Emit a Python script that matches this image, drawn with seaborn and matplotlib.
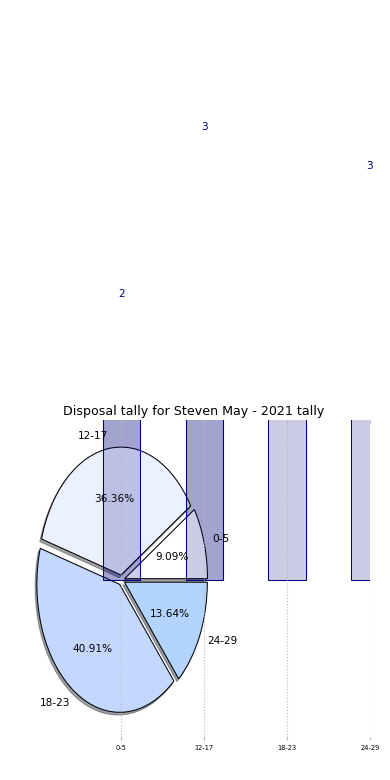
import matplotlib
matplotlib.use("Agg")
import matplotlib.pyplot as plt
import seaborn as sns

plt.rcParams['font.family'] = ['DejaVu Sans']

# ===================== data =====================
intervals = ['0-5', '12-17', '18-23', '24-29']
tally = [2, 8, 9, 3]                 # pie counts -> 9.09 / 36.36 / 40.91 / 13.64 %
bar_vals = [2.0, 3.3, 5.0, 3.0]      # bar heights, labelled above each bar
back_bars = ['0-5', '12-17']         # bars that are also drawn behind the pie
back_vals = [2.0, 3.3]

pie_colors = ['#ffffff', '#ebf1fe', '#c4d8ff', '#b3d4ff']
explode = [0.04, 0.04, 0.04, 0.04]
bar_face = (0, 0, 0.5, 0.2)

# ===================== figure =====================
fig = plt.figure(figsize=(3.9, 7.8), dpi=100)
ax = fig.add_axes([0.046, 0.0513, 0.9026, 0.410])


def draw_bars(cats, vals):
    n0 = len(ax.patches)
    sns.barplot(x=cats, y=vals, order=intervals, width=0.45, errorbar=None,
                edgecolor='navy', linewidth=0.75, legend=False, ax=ax)
    for p in ax.patches[n0:]:
        p.set_facecolor(bar_face)


# bars behind the pie
draw_bars(back_bars, back_vals)

# pie
ax.pie(tally, labels=intervals, explode=explode, colors=pie_colors,
       autopct='%1.2f%%', startangle=0,
       shadow={'ox': -0.015, 'oy': -0.015},
       wedgeprops={'edgecolor': 'black', 'linewidth': 0.75},
       textprops={'fontsize': 7.6})

# bars in front of the pie
draw_bars(intervals, bar_vals)

if ax.get_legend() is not None:
    ax.get_legend().remove()

# ===================== axes =====================
ax.set_aspect('auto')
ax.set_xlim(-1.25, 3.0)
ax.set_ylim(-1.25, 1.25)
ax.set_xticks(range(len(intervals)))
ax.set_xticklabels(intervals)
ax.set_yticks([])
ax.set_frame_on(False)
ax.grid(axis='x', linestyle=':', color='#b8b8b8', linewidth=0.8)
ax.tick_params(axis='x', top=True, bottom=True, direction='in', length=2,
               width=0.8, color='#b8b8b8', labelsize=4.8, pad=3.5)

ax.set_title('Disposal tally for Steven May - 2021 tally', fontsize=9.1, pad=3.5)
ax.set_xlabel('Frequency', fontsize=7.6, labelpad=2)
ax.set_ylabel('Stat Intervals', fontsize=7.6, labelpad=2)

# value labels above the bars (only those that land inside the figure)
fig_h = fig.get_size_inches()[1] * fig.dpi
for i, v in enumerate(bar_vals):
    y_pix = ax.transData.transform((i, v + 0.2))[1]
    if y_pix + 12 < fig_h:
        ax.text(i, v + 0.2, f'{v:.0f}', ha='center', va='bottom',
                color='navy', fontsize=7.6, clip_on=False)

fig.savefig('out.png', dpi=100)
